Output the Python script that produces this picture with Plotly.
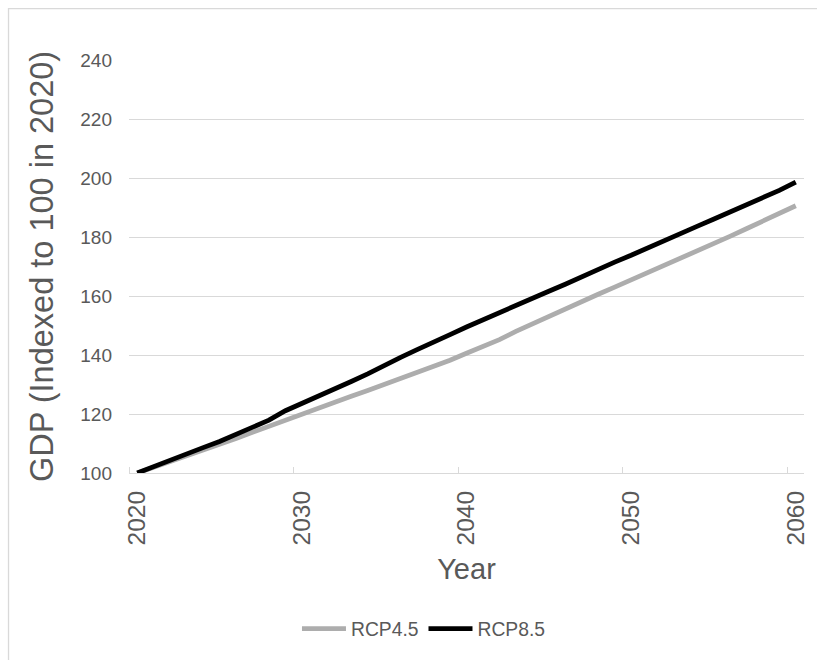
import plotly.graph_objects as go

# GDP paths indexed to 2020 = 100 under two climate scenarios
years = list(range(2020, 2061))

rcp45 = [
    100.0, 101.9, 103.9, 105.8, 107.7, 109.6, 111.7, 113.8, 115.9, 118.0,
    120.1, 122.0, 124.0, 126.0, 128.0, 130.0, 132.0, 134.0, 136.1, 138.2,
    140.6, 142.8, 145.2, 148.0, 150.6, 153.1, 155.5, 158.0, 160.6, 163.0,
    165.4, 167.8, 170.3, 172.8, 175.3, 177.7, 180.2, 182.8, 185.4, 187.9,
    190.6,
]

rcp85 = [
    100.0, 102.2, 104.6, 106.6, 108.6, 110.7, 113.2, 115.6, 117.9, 121.1,
    123.5, 126.0, 128.5, 131.0, 133.6, 136.5, 139.2, 141.8, 144.2, 146.9,
    149.5, 152.0, 154.3, 156.8, 159.4, 161.6, 164.0, 166.6, 169.1, 171.5,
    173.8, 176.3, 179.0, 181.3, 183.6, 186.0, 188.4, 190.8, 193.4, 195.8,
    198.6,
]

label_years = [2020, 2030, 2040, 2050, 2060]
y_ticks = [100, 120, 140, 160, 180, 200, 220, 240]

TEXT = "#595959"
GRID = "#D9D9D9"
FONT = "Liberation Sans, Arial, sans-serif"

fig = go.Figure()
fig.add_trace(go.Scatter(x=years, y=rcp45, mode="lines", name="RCP4.5",
                         line=dict(color="#ADADAD", width=4.8)))
fig.add_trace(go.Scatter(x=years, y=rcp85, mode="lines", name="RCP8.5",
                         line=dict(color="#000000", width=4.8)))

# category-style boundary ticks halfway between labelled years
boundary_ticks = [y - 0.5 for y in label_years]

fig.update_layout(
    width=817, height=660,
    margin=dict(l=129, r=13, t=60, b=185),
    paper_bgcolor="white", plot_bgcolor="white",
    font=dict(family=FONT, color=TEXT),
    showlegend=True,
    legend=dict(orientation="h", x=0.437, xanchor="center", y=-0.378,
                yanchor="middle", font=dict(size=19.3, color=TEXT),
                itemwidth=44, tracegroupgap=0),
    xaxis=dict(
        range=[2019.5, 2060.5], tickmode="array", tickvals=label_years,
        ticktext=[str(v) for v in label_years], tickangle=-90,
        ticks="", showgrid=False, zeroline=False, automargin=False,
        showline=True, linecolor=GRID, linewidth=1.3,
        tickfont=dict(size=24.5, color=TEXT), ticklabelstandoff=7,
        minor=dict(tickmode="array", tickvals=boundary_ticks, ticks="inside",
                   ticklen=6, tickcolor=GRID, tickwidth=1.3, showgrid=False),
        title=dict(text="Year", font=dict(size=29, color=TEXT), standoff=14),
    ),
    yaxis=dict(
        range=[100, 240], tickmode="array", tickvals=y_ticks,
        ticks="", showgrid=True, gridcolor=GRID, gridwidth=1.3,
        zeroline=False, showline=False, automargin=False,
        tickfont=dict(size=19, color=TEXT), ticklabelstandoff=16,
        title=dict(text="GDP (Indexed to 100 in 2020)",
                   font=dict(size=32.5, color=TEXT), standoff=16),
    ),
    shapes=[dict(type="rect", xref="paper", yref="paper",
                 x0=-0.1785, x1=1.2, y0=-0.6, y1=1.1245,
                 line=dict(color=GRID, width=1.3), fillcolor="rgba(0,0,0,0)",
                 layer="below")],
)

fig.write_html("out.html")
